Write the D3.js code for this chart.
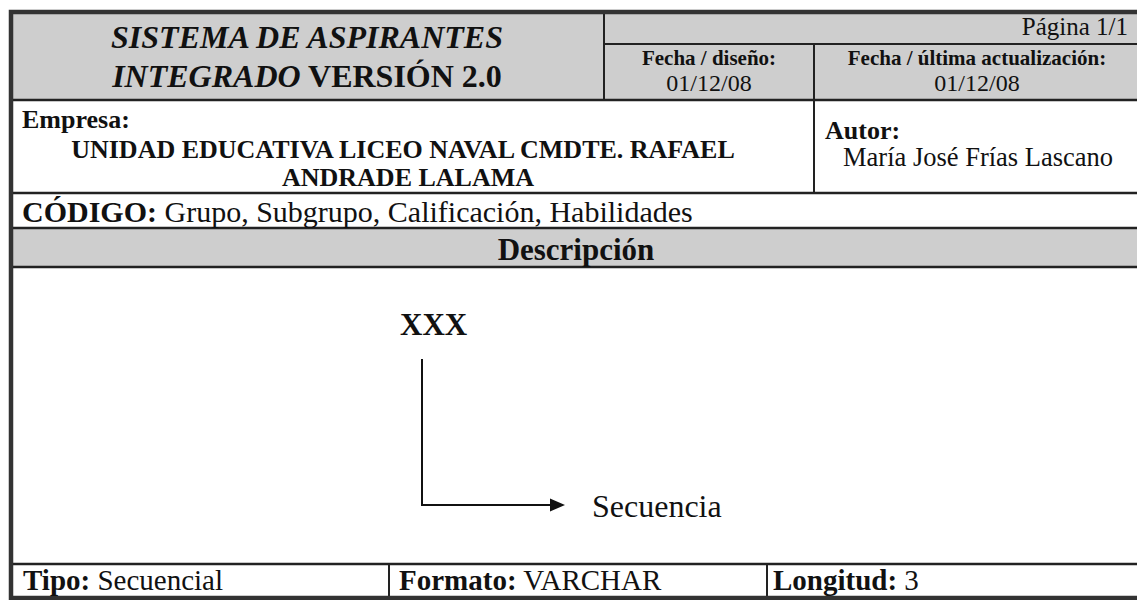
<!DOCTYPE html>
<html><head><meta charset="utf-8">
<script src="https://cdn.jsdelivr.net/npm/d3@7"></script>
<style>body{margin:0;background:#fff}svg{display:block}text{font-family:"Liberation Serif","Times New Roman",serif;fill:#111}</style>
</head><body>
<script>
// Text content of the form
const titleLines = [
  [{t:"SISTEMA DE ASPIRANTES", i:true}],
  [{t:"INTEGRADO", i:true},{t:" VERSIÓN 2.0", i:false}]
];
const pageLabel = "Página 1/1";
const dateHeaders = ["Fecha / diseño:", "Fecha / última actualización:"];
const dateValues = ["01/12/08", "01/12/08"];
const empresaLabel = "Empresa:";
const empresaLines = ["UNIDAD EDUCATIVA LICEO NAVAL CMDTE. RAFAEL", "ANDRADE LALAMA"];
const autorLabel = "Autor:";
const autorName = "María José Frías Lascano";
const codigoLabel = "CÓDIGO:";
const codigoText = " Grupo, Subgrupo, Calificación, Habilidades";
const descLabel = "Descripción";
const codeMark = "XXX";
const arrowLabel = "Secuencia";
const footerLabels = ["Tipo:", "Formato:", "Longitud:"];
const footerValues = [" Secuencial", " VARCHAR", " 3"];

const W = 1137, H = 600;
const svg = d3.select("body").append("svg").attr("width", W).attr("height", H);
const gray = "#cecece";
const L = 11, R = 1142, T = 12, B = 598;
const xMid = 604, xDate = 814;
const yPage = 44, yHead = 100, yEmp = 193, yCod = 228, yDesc = 267, yFoot = 564;

// Backgrounds
svg.append("rect").attr("x", L).attr("y", T).attr("width", R - L).attr("height", yHead - T).attr("fill", gray);
svg.append("rect").attr("x", L).attr("y", yCod).attr("width", R - L).attr("height", yDesc - yCod).attr("fill", gray);

const line = (x1, y1, x2, y2, w) => svg.append("line").attr("x1", x1).attr("y1", y1).attr("x2", x2).attr("y2", y2)
  .attr("stroke", "#222").attr("stroke-width", w || 2);

// Grid lines
line(xMid, T, xMid, yHead);
line(xMid, yPage, R, yPage);
line(xDate, yPage, xDate, yEmp);
[yHead, yEmp, yCod, yDesc, yFoot].forEach(y => line(L, y, R, y, 2.5));
line(389, yFoot, 389, B);
line(767, yFoot, 767, B);
// Outer border
svg.append("rect").attr("x", L).attr("y", T).attr("width", R - L).attr("height", B - T)
  .attr("fill", "none").attr("stroke", "#333").attr("stroke-width", 4.5);

// Title
titleLines.forEach((parts, k) => {
  const tx = svg.append("text").attr("x", 307).attr("y", 48 + k * 39).attr("text-anchor", "middle")
    .attr("font-size", 32).attr("font-weight", "bold");
  parts.forEach(p => tx.append("tspan").text(p.t).attr("font-style", p.i ? "italic" : "normal"));
});
svg.append("text").attr("x", 1128).attr("y", 35).attr("text-anchor", "end").attr("font-size", 25).text(pageLabel);

const dateCenters = [709, 977];
dateHeaders.forEach((h, k) => {
  svg.append("text").attr("x", dateCenters[k]).attr("y", 65).attr("text-anchor", "middle")
    .attr("font-size", 21).attr("font-weight", "bold").text(h);
  svg.append("text").attr("x", dateCenters[k]).attr("y", 91).attr("text-anchor", "middle")
    .attr("font-size", 24).text(dateValues[k]);
});

svg.append("text").attr("x", 22).attr("y", 128).attr("font-size", 26).attr("font-weight", "bold").text(empresaLabel);
const empCenters = [403, 408];
empresaLines.forEach((s, k) => {
  svg.append("text").attr("x", empCenters[k]).attr("y", 158 + k * 28).attr("text-anchor", "middle")
    .attr("font-size", 26).attr("font-weight", "bold").text(s);
});
svg.append("text").attr("x", 825).attr("y", 139).attr("font-size", 26).attr("font-weight", "bold").text(autorLabel);
svg.append("text").attr("x", 843).attr("y", 166).attr("font-size", 26.5).text(autorName);

const cod = svg.append("text").attr("x", 22).attr("y", 222).attr("font-size", 30);
cod.append("tspan").attr("font-weight", "bold").text(codigoLabel);
cod.append("tspan").text(codigoText);

svg.append("text").attr("x", 576).attr("y", 260).attr("text-anchor", "middle")
  .attr("font-size", 31).attr("font-weight", "bold").text(descLabel);

// Diagram
svg.append("text").attr("x", 400).attr("y", 335).attr("font-size", 31).attr("font-weight", "bold").text(codeMark);
svg.append("path").attr("d", "M422,359 L422,505 L552,505").attr("fill", "none").attr("stroke", "#111").attr("stroke-width", 2);
svg.append("path").attr("d", "M550,498.5 L565,505 L550,511.5 Z").attr("fill", "#111");
svg.append("text").attr("x", 592).attr("y", 517).attr("font-size", 32).text(arrowLabel);

const footX = [23, 399, 773];
footerLabels.forEach((lab, k) => {
  const t = svg.append("text").attr("x", footX[k]).attr("y", 590).attr("font-size", 29);
  t.append("tspan").attr("font-weight", "bold").text(lab);
  t.append("tspan").text(footerValues[k]);
});
</script>
</body></html>
